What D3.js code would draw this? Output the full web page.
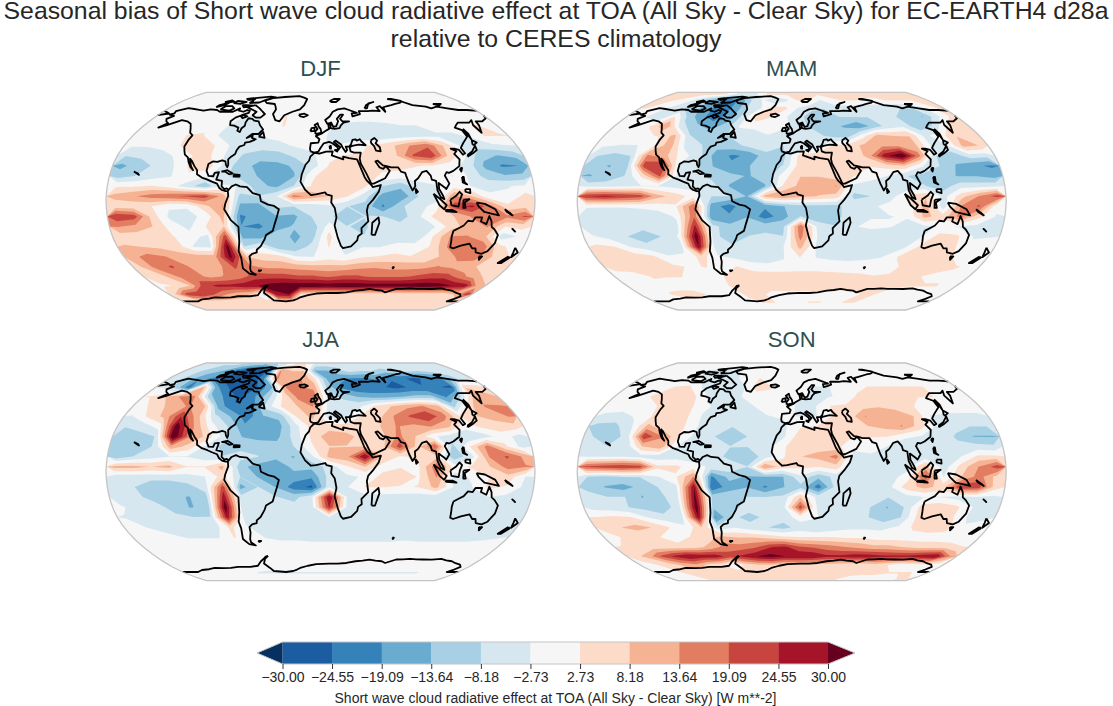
<!DOCTYPE html>
<html>
<head>
<meta charset="utf-8">
<script src="https://cdn.jsdelivr.net/npm/d3@7"></script>
<style>
  html, body { margin: 0; background: #fff; }
  text { font-family: "Liberation Sans", Arial, sans-serif; }
</style>
</head>
<body>
<svg id="chart" width="1113" height="706"></svg>
<script>
const titleLines = [
  "Seasonal bias of Short wave cloud radiative effect at TOA (All Sky - Clear Sky) for EC-EARTH4 d28a",
  "relative to CERES climatology"
];
const seasonNames = ["DJF", "MAM", "JJA", "SON"];
const barLabel = "Short wave cloud radiative effect at TOA (All Sky - Clear Sky) [W m**-2]";
const levels = [-30, -24.55, -19.09, -13.64, -8.18, -2.73, 2.73, 8.18, 13.64, 19.09, 24.55, 30];
const levelLabels = ["\u221230.00", "\u221224.55", "\u221219.09", "\u221213.64", "\u22128.18", "\u22122.73", "2.73", "8.18", "13.64", "19.09", "24.55", "30.00"];
const bandColors = ["#053061", "#1c5da1", "#3581ba", "#6aacd0", "#a7d0e4", "#d7e7f0", "#f6f6f6", "#fcdbc8", "#f6b394", "#e27d62", "#c8453f", "#a51429", "#67001f"];

// rows go north to south (7.5 deg), columns west to east (15 deg), W m-2
const djf = [
[0,0,0,0,0,0,0,0,0,0,0,0,0,0,0,0,0,0,0,0,0,0,0,0],
[0,0,0,0,0,0,0,0,0,0,0,0,0,0,0,0,0,0,0,0,0,0,0,0],
[0,0,0,0,0,0,0,0,0,0,0,0,0,0,0,0,0,0,0,0,0,0,0,0],
[0,0,0,0,0,0,-3,-3,0,3,0,0,0,0,0,0,0,0,0,0,0,0,0,0],
[0,0,0,0,2,-2,-5,-5,0,3,0,0,-2,-4,-5,-5,-4,-3,-3,0,0,2,3,2],
[0,0,0,3,3,-3,-6,-5,-2,-1,0,0,-3,-5,-7,-8,-7,-6,-5,-4,-4,-2,3,3],
[-2,-2,-1,3,3,3,-3,-5,-5,-4,-2,-1,-3,-2,2,4,8,14,18,8,-3,-6,-4,-3],
[-8,-7,-5,-2,3,3,-4,-9,-12,-11,-7,-4,2,3,3,4,8,20,24,8,-2,-12,-14,-12],
[-15,-11,-7,-3,4,6,-5,-12,-15,-15,-13,-6,3,5,6,4,5,3,2,0,-5,-15,-20,-19],
[-11,-8,-5,-3,2,-2,-7,-11,-14,-15,-14,2,5,6,5,2,0,0,0,3,-4,-11,-13,-12],
[2,2,3,0,-6,-12,-2,-3,-12,-15,-8,3,8,6,4,-8,-12,-5,-3,0,-3,-4,-3,-2],
[10,13,16,18,20,22,12,-10,-8,-4,16,12,8,3,-6,-16,-18,-8,-6,14,8,-2,-2,5],
[5,4,3,-2,-2,6,14,-15,-16,-7,-8,-7,-4,-8,-10,-20,-9,-5,0,22,26,16,4,6],
[24,22,6,-4,-5,-1,10,-20,-17,-14,-15,-8,-7,-12,-8,-8,-11,-4,5,8,14,14,15,20],
[14,12,8,0,-4,3,8,-19,-20,-16,-13,-12,0,-8,-9,-5,-6,-8,-3,6,11,14,3,5],
[5,5,3,3,-1,-4,22,-15,-16,-10,-15,-11,5,-8,-8,-5,-7,-8,3,14,14,9,-6,-2],
[9,8,7,6,-3,-4,33,-8,-3,-12,-13,-6,3,-6,-3,-3,0,0,3,14,16,18,5,0],
[12,16,14,10,11,11,32,8,6,5,-2,-3,0,-2,2,3,4,3,3,10,15,16,8,3],
[8,16,20,14,10,12,20,15,12,12,11,10,10,10,12,13,12,12,12,14,12,10,6,5],
[5,8,15,16,12,14,16,22,22,22,20,20,18,20,20,18,18,18,20,22,22,16,10,6],
[2,3,8,22,26,26,28,30,33,34,34,34,33,34,34,33,33,33,33,34,33,30,28,10],
[8,22,25,20,14,10,8,-5,28,30,5,4,4,4,4,4,4,3,4,4,4,4,8,22],
[3,3,3,4,5,6,5,4,5,5,4,5,5,4,4,3,4,4,4,5,5,4,4,3],
[3,4,5,4,3,4,4,3,3,4,5,4,3,3,4,5,4,3,3,4,3,3,3,3]
];
const mam = [
[4,4,4,4,4,3,-3,-4,-3,3,4,4,4,4,4,4,4,4,4,4,4,4,4,4],
[3,3,2,-4,-12,-18,-22,-18,-8,-2,-8,-4,3,3,-3,2,3,3,2,2,3,3,3,4],
[3,0,-4,-8,-12,-18,-22,-18,-8,-4,5,4,-3,-6,-8,-6,-5,-6,-6,-6,-8,-8,-3,3],
[0,-3,-8,3,-10,-18,-22,-16,-6,8,3,-2,-6,-12,-10,-8,-8,-8,-8,-8,-10,-14,-5,3],
[0,0,3,14,-6,-12,-16,-12,-2,-2,0,-1,-6,-10,-12,-14,-18,-12,-6,-4,-12,-8,3,5],
[0,0,2,3,10,-8,-10,-10,-6,-4,-3,-6,-5,-6,-10,-12,0,10,8,8,-4,0,8,4],
[-2,-3,-3,0,12,-4,-8,-12,-10,-6,-5,-8,-8,-6,3,5,10,12,12,10,-3,-3,10,8],
[-8,-10,-8,15,10,0,-6,-16,-20,-18,-10,-10,5,6,5,3,10,28,36,16,-8,-12,-5,-6],
[-12,-14,-10,22,25,-3,-8,-14,-18,-14,-10,-8,6,8,6,3,3,5,8,-2,-8,-14,-18,-20],
[-14,-12,-8,4,20,-4,-6,-10,-12,-14,-12,0,8,8,5,3,0,-3,-8,-10,-12,-14,-14,-16],
[-5,-5,-4,-3,-3,-5,-5,-6,-14,-18,-14,3,10,10,14,-4,-6,-4,-8,-8,-11,-5,-5,-4],
[24,26,24,22,10,6,0,-8,-8,-14,10,14,10,8,6,-10,-8,-6,4,8,-5,6,14,22],
[-2,-2,-2,-2,0,2,18,-16,-22,-14,-18,-14,-10,-10,-10,-4,-4,0,0,10,-6,14,20,-2],
[-6,-8,-8,-5,-6,-2,18,-18,-18,-14,-22,-16,-8,-12,-10,-4,-3,-3,-2,10,5,16,5,-3],
[-6,-7,-8,-6,-6,-4,26,-6,-12,-10,-10,-10,18,-5,-8,-3,-2,-2,-5,-4,-2,-3,-4,-5],
[-2,-5,-8,-12,-8,-2,34,-6,-12,-8,-7,-8,16,-3,-6,-5,-5,-8,-6,-3,5,4,-3,-3],
[4,3,-3,-6,-8,-4,30,-6,-7,-7,-5,-3,10,-4,-6,-4,-5,-6,-5,3,6,4,-2,0],
[6,7,6,4,-2,-2,5,-2,-4,-6,-4,-3,3,-3,-4,-4,-4,-3,3,6,6,4,0,2],
[5,6,8,8,4,2,3,0,3,0,-2,-2,0,0,0,-1,0,0,2,4,5,4,3,2],
[0,0,3,3,3,0,0,3,5,6,7,7,6,6,5,5,4,3,3,3,3,2,2,0],
[0,0,2,0,0,0,0,3,5,6,7,7,7,7,7,6,6,6,5,4,3,3,3,0],
[0,0,3,5,5,2,0,-2,5,5,0,0,0,0,0,0,0,3,3,0,0,0,0,0],
[0,0,0,0,0,0,0,0,0,3,3,0,0,3,3,0,3,3,0,0,0,0,0,0],
[0,0,0,0,0,0,0,0,0,0,0,0,0,0,0,0,0,0,0,0,0,0,0,0]
];
const jja = [
[-6,-8,-8,-8,-10,-12,-14,-10,-4,4,3,-5,-6,-6,-5,-5,-5,-5,-5,-5,-5,-6,-6,-6],
[-6,-8,-10,-14,-22,-28,-30,-24,14,8,8,-14,-14,-10,-6,-8,-8,-10,-8,-6,-8,-6,-6,-5],
[-6,-10,-18,-20,-26,-28,-30,-20,14,12,14,4,-14,-18,-20,-20,-18,-24,-24,-26,-22,-20,-10,-5],
[-3,-10,-24,10,-18,-26,-30,-24,-14,14,14,12,-10,-20,-24,-24,-24,-26,-24,-24,-24,-26,8,5],
[3,8,14,14,-12,-20,-26,-20,-10,4,16,18,-5,-10,-14,-16,-16,-14,-12,-12,-20,-8,12,10],
[0,6,10,14,12,-16,-24,-24,-6,3,8,14,-4,-4,-4,4,8,12,14,10,-10,6,14,14],
[-3,4,10,24,10,-6,-14,-22,-14,-12,3,10,-5,-4,3,6,14,20,24,16,3,8,10,14],
[-8,-6,0,34,14,0,-8,-18,-18,-16,-5,5,5,5,5,8,14,12,14,10,0,4,6,6],
[-10,-10,-8,36,14,6,-6,-14,-16,-15,-6,4,12,10,6,6,15,8,-2,-5,-8,-5,0,-5],
[-12,-10,-8,12,6,-4,-10,-10,-10,-12,-8,2,8,8,8,6,22,6,20,-10,3,16,4,-5],
[-12,-8,-5,-3,-3,-6,-8,-6,-8,-12,-14,-4,10,12,30,8,2,4,6,-12,-5,14,20,12],
[10,10,8,10,3,3,10,-12,-16,-18,-12,-12,-6,2,8,0,2,2,18,0,4,8,16,14],
[-6,-6,-6,-6,-5,-3,5,-8,-14,-16,-16,-18,-6,-4,-2,5,8,2,14,-5,-2,3,6,-3],
[-8,-8,-12,-12,-10,-6,22,-16,-8,-14,-22,-26,-4,-3,3,3,2,3,10,-3,-3,4,2,-4],
[-6,-7,-10,-12,-14,-10,28,-6,-6,-8,-10,-4,30,-3,-5,-5,-5,-6,-6,-6,-4,-3,-4,-6],
[-2,-5,-6,-10,-14,-12,34,-6,-6,-6,-6,-5,25,-3,-6,-5,-6,-6,-6,-6,-5,-3,-6,-6],
[-3,-4,-5,-7,-8,-8,28,-5,-6,-7,-7,-6,-4,-4,-6,-6,-6,-6,-6,-5,-3,-6,-5,-4],
[-1,-3,-4,-5,-5,-6,4,-2,-6,-6,-6,-6,-6,-6,-6,-6,-6,-6,-6,-6,-6,-6,-5,-4],
[0,0,-2,-3,-3,-3,3,0,-3,-4,-4,-5,-5,-5,-5,-5,-5,-4,-5,-5,-5,-5,-4,-3],
[0,0,0,0,0,0,0,0,0,0,0,0,0,0,0,0,0,0,0,0,0,0,0,0],
[0,0,0,0,0,0,0,0,0,0,0,0,0,0,0,0,0,0,0,0,0,0,0,0],
[0,0,0,0,0,0,0,-2,0,0,0,0,0,0,0,0,0,0,0,0,0,0,0,0],
[0,0,0,0,0,0,-3,-3,-3,-3,-3,-3,-3,-3,-3,-3,-3,-3,-3,-3,-3,0,0,0],
[0,0,0,0,0,0,0,0,0,0,0,0,0,0,0,0,0,0,0,0,0,0,0,0]
];
const son = [
[0,0,0,0,0,0,0,0,0,0,0,0,0,0,0,0,0,0,0,0,0,0,0,0],
[0,0,0,0,-3,-4,-3,-3,0,0,0,0,0,0,0,0,0,0,0,0,0,0,0,0],
[0,0,0,0,-2,-4,-5,-4,0,3,0,0,0,0,0,0,0,0,0,0,0,0,0,0],
[0,0,0,3,4,-3,-5,-5,-4,5,3,0,-2,-3,-3,-2,0,3,3,3,3,3,0,0],
[0,0,3,3,6,3,-4,-6,-3,0,2,0,-2,-3,-3,-2,4,6,6,5,3,3,0,0],
[0,0,0,3,8,4,-2,-4,-4,-3,0,0,-4,-3,3,4,6,8,6,4,0,-2,0,0],
[-4,-5,-2,3,6,4,-3,-5,-6,-5,-3,-2,-3,-3,3,5,14,10,12,8,-3,-3,-4,-4],
[-10,-10,-4,10,4,4,-3,-8,-8,-8,-5,-4,2,3,3,4,8,10,14,6,-3,-6,-8,-8],
[-8,-12,-6,24,14,3,-5,-8,-11,-8,-6,-4,6,6,5,3,3,3,-2,-3,-4,-9,-14,-14],
[-6,-8,-8,8,12,-3,-5,-7,-8,-8,-6,2,6,6,4,0,0,-3,-5,-6,-7,-7,-6,-7],
[-3,-3,-3,-5,-6,-5,-6,-5,-10,-12,-6,2,8,10,16,-6,-4,-3,-6,-6,-4,-3,4,4],
[20,22,24,22,4,4,0,-4,-4,-8,14,5,4,3,6,-8,-8,-8,-5,10,-6,5,14,22],
[-8,-10,-8,-8,-3,2,14,-20,-12,-14,-14,-14,-4,-12,-6,-6,-5,-5,0,22,-3,8,16,6],
[-10,-14,-16,-12,-8,-4,30,-24,-16,-14,-20,-14,-10,-22,-6,-8,-6,-4,6,10,6,24,22,5],
[-6,-8,-8,-14,-10,-4,32,-10,-10,-8,-8,-7,8,-5,-6,-8,-8,-8,-5,-3,-3,-5,-3,-4],
[-5,-6,-8,-10,-12,-5,34,-12,-10,-6,-6,-5,22,-4,-5,-6,-8,-14,-8,5,7,4,-3,-4],
[3,4,3,-3,-6,-5,30,-20,-7,-10,-7,-6,0,-2,-7,-7,-8,-12,-8,5,5,3,-4,-4],
[6,8,10,8,3,-2,8,-6,-3,-6,-8,-10,-6,-8,-6,-4,-4,-4,-2,4,6,5,-2,0],
[0,5,4,3,0,3,5,10,8,8,6,4,3,3,3,2,2,0,0,0,0,0,0,0],
[3,3,5,5,5,6,10,16,16,18,24,26,20,18,16,14,12,10,10,8,6,6,5,3],
[6,10,20,26,30,28,28,22,26,30,32,30,30,30,26,26,28,28,26,26,26,28,30,14],
[0,3,5,10,12,6,3,-3,5,8,8,5,6,5,6,5,3,3,6,3,0,0,0,0],
[0,0,3,3,3,4,5,6,8,8,6,5,6,3,3,6,6,5,4,4,3,3,3,0],
[0,0,0,3,3,4,5,5,4,3,3,4,5,3,3,3,3,0,0,0,0,0,3,3]
];
const seasonValues = [djf, mam, jja, son];

// coastlines, lon/lat
const coasts = [
[[-168,65.5],[-164,66.5],[-166,68.5],[-156.5,71.2],[-148,70.4],[-141,69.7],[-135,69],[-128,70],[-120,69.5],[-115,68],[-108,68],[-100,68],[-95,71],[-94,69],[-88,68],[-85,69.5],[-81.5,69],[-81,67],[-87,65],[-92,63],[-94.5,60],[-92.5,57],[-88,56.5],[-82.5,55],[-82,52.5],[-79,51.5],[-79,54.5],[-77,56.5],[-78,59],[-77.5,62.5],[-73,62],[-70,60.5],[-65,60],[-62,57],[-57,53.5],[-60,50],[-66,50],[-70,47],[-65,49],[-65,47],[-61,46],[-66,44],[-70,43.5],[-70,41.7],[-74,40.5],[-75.5,38],[-76,35],[-79,33],[-81,31],[-80,27],[-80.5,25.2],[-82,27],[-83,29.5],[-86,30.3],[-90,29.2],[-94,29.5],[-97.3,27.5],[-97.8,22.5],[-95.5,18.7],[-91.5,18.5],[-90.5,21],[-87,21.5],[-88.5,16],[-83.5,15],[-83.5,11],[-81,9],[-79,9.5],[-77.3,8.5],[-78,7.5],[-80,7.5],[-83,8.3],[-85.5,10],[-87.5,13],[-92,14.5],[-96,16],[-101,17.5],[-105.5,20],[-106,23],[-109,26],[-112.5,30],[-114.7,31.5],[-112,26],[-109.5,23],[-112,25],[-115,29],[-117,32.5],[-120.5,34.5],[-122.5,37.5],[-124.3,40.5],[-124,46],[-123,49],[-127,51],[-130,54.5],[-134,58],[-140,60],[-147,61],[-152,59],[-157,57],[-163,55],[-158,58.5],[-162,60],[-165,62],[-161,64.5],[-168,65.5]],
[[-77.3,8.5],[-75,11],[-71.5,12.4],[-68,11],[-62,10.5],[-57,6],[-51,4.5],[-50,0],[-44,-2.5],[-39,-3.5],[-35,-6],[-37,-12],[-39,-17],[-41,-22],[-47,-25],[-48.5,-28],[-53,-33.5],[-57,-36],[-57.5,-38],[-62,-39],[-65,-41],[-65.5,-45],[-68,-50],[-68.5,-52.5],[-65,-55],[-71,-54],[-75,-50],[-73,-42],[-73.5,-37],[-71,-30],[-70,-19],[-76,-14],[-81,-6],[-80,-2],[-77.5,4],[-78,7.5]],
[[-73,78.3],[-65,81],[-50,82.5],[-30,83.5],[-18,80],[-20,74],[-24,70],[-32,68],[-40,65],[-43,60],[-48,61],[-53,66],[-52,70],[-57,75],[-68,76],[-73,78.3]],
[[-5.5,35.8],[-1,35.2],[5,36.8],[11,37],[10,34],[15,32.5],[20,31],[20,33],[25,32],[32,31],[32.5,30],[35,24],[37.5,18],[39.5,15],[43,12],[44,10.5],[51,12],[49,7],[44,1],[40,-3],[39,-7],[40.5,-15],[35,-20],[35.5,-24],[32.5,-26],[32,-29],[27,-33.5],[20,-34.8],[18,-33],[15,-27],[12,-18],[13.5,-12],[12,-5],[9,-1],[9.5,4],[5,5],[4,6.5],[-4,5],[-8,4.5],[-13,8.5],[-17,14.5],[-16,20],[-13,27],[-10,30],[-9,33],[-5.5,35.8]],
[[-9,37],[-9.5,39],[-9,43],[-2,43.5],[-1,46],[-4.5,48.5],[1.5,50.5],[4,52],[8.5,54],[8,57],[10.5,57.5],[10,54.5],[14,54],[19,54.5],[21,57],[24,59],[30,60],[23,60],[21,62],[25,65.5],[22,65.5],[17.5,62],[18.5,60],[16,56.2],[13,55.5],[11,59],[7,58],[5,61],[10,64],[14,68],[20,70],[28,71],[33,69.5],[41,67],[35,66.5],[35,64],[40,65],[44,66],[44,68.5],[54,68.5],[60,69],[68,68.5],[67,72],[72,73],[74,68],[75,72],[81,73],[87,74],[100,76],[105,77.5],[113,74],[127,72.5],[131,71],[140,72.5],[150,71],[160,69.5],[170,69.5],[178,69],[190,66.5],[180,65],[178,62.5],[170,60],[163,60],[162,57],[157,51],[156,57],[160,61],[155,59],[143,59],[135,55],[140,53],[140,48],[132,43],[127.5,39.5],[129,35.5],[126.5,34.5],[125,38],[121,39],[118,39],[122,37],[119,35],[122,31],[120,26],[114,22.5],[110,21],[108,21.5],[106,19],[109,13],[106,9],[105,10],[100,13.5],[100,9],[103,4],[104,1.5],[101,3],[98.5,8],[98,15],[94.5,16],[94,19],[91,22.5],[87,21.5],[83,17],[80,15],[80,11],[77.5,8],[75,13],[73,19],[72.5,21],[69,22],[67,25],[61,25],[57,26],[54,26.5],[50,30],[48,29.5],[51,25],[54,24],[56.5,26],[59.5,22.5],[55,17],[45,13],[43,13],[39,21],[35,28],[34.5,31.5],[36,36],[30,36],[27,37],[26.5,40],[29,41],[35,42],[41.5,41.5],[38,44.5],[37,46],[34,45],[33,46],[30,45.5],[28,42],[26,40.5],[23,40.5],[24,38],[22.5,36.5],[20,40],[19,42],[14,45],[12.5,44],[18,40],[16,38],[15.5,40],[11,43],[8,44],[3,43],[0,39.5],[-2,36.7],[-5.5,36],[-9,37]],
[[47,45],[51,47],[53,45],[51,43],[54,40],[54,37],[50,37.5],[49,41],[47,43],[47,45]],
[[114,-22],[113.5,-26],[115,-34],[118,-35],[124,-33],[131,-31.5],[135,-35],[138,-35],[140,-38],[146,-39],[150,-37],[153,-31],[153,-25],[149,-21],[146,-19],[145,-15],[142.5,-11],[141,-17],[136,-15],[136.5,-12],[131,-12],[129,-15],[125,-14.5],[122,-18],[118,-20],[114,-22]],
[[-57,-63.5],[-62,-66],[-66,-70],[-62,-74],[-60,-77],[-45,-78],[-35,-77],[-25,-74],[-15,-72],[-5,-70.5],[10,-70],[30,-69.5],[40,-68],[55,-66.5],[70,-68],[75,-69.5],[85,-66.5],[100,-66],[115,-66.5],[135,-66],[150,-68],[165,-71],[170,-73],[165,-78],[180,-78],[200,-78],[210,-76],[230,-74],[250,-74],[260,-73],[275,-73],[285,-72],[292,-68],[300,-64],[303,-63.5]],
[[-80,74],[-72,71],[-66,68],[-62,66],[-65,63],[-70,63],[-75,65],[-73,68],[-80,70],[-88,72],[-80,74]],
[[-117,70],[-105,69],[-102,71],[-107,73],[-115,73],[-117,70]],
[[-125,72],[-118,74],[-116,76],[-124,74],[-125,72]],
[[-90,76],[-78,76.5],[-62,82],[-70,83],[-90,81],[-88,78],[-90,76]],
[[-96,74],[-90,74],[-82,73.5],[-92,72],[-96,74]],
[[-110,76],[-100,75],[-95,77],[-108,78],[-110,76]],
[[-120,76],[-112,77.5],[-116,78.5],[-122,77],[-120,76]],
[[-96,79],[-88,80],[-92,81],[-99,80],[-96,79]],
[[-85,65],[-80,64],[-84,62.5],[-87,64],[-85,65]],
[[-24,65.5],[-18,66.3],[-14,65],[-18,63.5],[-22,64],[-24,65.5]],
[[-59,48],[-56,51.5],[-53,47],[-59,48]],
[[12,78],[18,80],[26,80],[20,77],[14,77],[12,78]],
[[52,71],[56,74],[68,77],[60,75.5],[55,71],[52,71]],
[[90,80],[100,79],[105,78],[95,80],[90,80]],
[[140,75],[150,75],[145,73.5],[140,75]],
[[-5,50],[1,51],[0,54],[-2,56],[-3,58.5],[-6,57],[-3,54],[-5,52],[-5,50]],
[[-10,52],[-6,52.5],[-6,55],[-9,54.5],[-10,52]],
[[-85,22],[-80,23],[-75,20.5],[-78,20],[-82,22],[-85,22]],
[[-74,19.8],[-69,19.5],[-69,18.3],[-74,18.2],[-74,19.8]],
[[-160,22],[-156,20.5],[-155,19.5],[-157,20.5],[-160,22]],
[[44,-25],[47,-25],[50,-16],[49,-12],[44,-16],[44,-25]],
[[80,9.5],[82,7],[80.5,6],[80,9.5]],
[[95,5.5],[100,2],[106,-3],[104,-6],[100,-3],[95,5.5]],
[[105,-6.5],[111,-6.5],[114.5,-8],[106,-7.5],[105,-6.5]],
[[109,1],[114,4],[117,7],[119,5],[117,1],[116,-4],[110,-3],[109,1]],
[[120,1],[125,1.5],[121,-1],[122,-5],[120,-5],[120,1]],
[[131,-1],[138,-2],[147,-6],[150.5,-10.5],[143,-9],[138,-8],[133,-4],[131,-1]],
[[120.5,18],[122,18],[122,14],[124,12.5],[120.5,14],[120.5,18]],
[[122,9],[126,9],[126,6],[122,7],[122,9]],
[[121,25],[122,24.5],[120.8,22],[120,23.5],[121,25]],
[[130,33],[136,35.5],[141,38],[141.5,41],[140,40],[136,36.8],[131,34.5],[130,33]],
[[140,42],[142,45.5],[145,43.5],[141,41.7],[140,42]],
[[142,54],[143,50],[142,46],[142,50],[142,54]],
[[145,-41],[148,-41],[147,-43.5],[145,-41]],
[[173,-34.5],[178,-38],[175,-41.5],[174,-38],[173,-34.5]],
[[172,-41],[174,-42],[170,-46],[167,-46],[172,-41]],
[[165,-21],[167,-22.5],[164,-20.5],[165,-21]],
[[155,-6],[160,-9],[162,-10.5],[157,-8],[155,-6]],
[[-61,-51.5],[-58,-51.5],[-60,-52.3],[-61,-51.5]],
[[69,-49],[70.5,-49],[70,-50],[69,-49]],
[[12.5,38],[15.5,38],[15,36.8],[12.5,38]],
[[8.3,41],[9.5,41],[9.5,39],[8.5,39],[8.3,41]]
];

const svg = d3.select("#chart");

const tabX = [1,0.9986,0.9954,0.99,0.9822,0.973,0.96,0.9427,0.9216,0.8962,0.8679,0.835,0.7986,0.7597,0.7186,0.6732,0.6213,0.5722,0.5322];
const tabY = [0,0.062,0.124,0.186,0.248,0.31,0.372,0.434,0.4958,0.5571,0.6176,0.6769,0.7346,0.7903,0.8435,0.8936,0.9394,0.9761,1];

// d3 core has no Robinson, so look it up in the usual table
function robinsonRaw(lambda, phi) {
  const a = Math.min(Math.abs(phi) * 180 / Math.PI / 5, 17.9999);
  const i = Math.floor(a), t = a - i;
  const px = tabX[i] + (tabX[i + 1] - tabX[i]) * t;
  const py = tabY[i] + (tabY[i + 1] - tabY[i]) * t;
  return [0.8487 * px * lambda, 1.3523 * py * (phi < 0 ? -1 : 1)];
}

const panelCenters = [[320.5, 201.2], [791.7, 201.2], [320.5, 471.8], [791.7, 471.8]];
const titleY = [75.5, 75.5, 346.5, 346.5];
const nx = djf[0].length, ny = djf.length;
const bandScale = d3.scaleThreshold(levels, bandColors);
const upper = levels.filter(d => d > 0);

svg.selectAll("text.title").data(titleLines).join("text")
  .attr("class", "title")
  .attr("x", 556)
  .attr("y", (d, i) => 19 + i * 27.5)
  .attr("text-anchor", "middle")
  .attr("font-size", 24.8)
  .attr("fill", "#262626")
  .text(d => d);

seasonValues.forEach((values, k) => {
  const [cx, cy] = panelCenters[k];
  const projection = d3.geoProjection(robinsonRaw).scale(80.45).translate([cx, cy]).precision(0.2);
  const path = d3.geoPath(projection);
  const flat = values.flat();

  // contour grid space -> lon/lat -> page
  const gridPath = d3.geoPath(d3.geoTransform({
    point(x, y) {
      const p = projection([-180 + x * 360 / nx, 90 - y * 180 / ny]);
      this.stream.point(p[0], p[1]);
    }
  }));

  const g = svg.append("g");
  g.append("clipPath").attr("id", "clip" + k).append("path").attr("d", path({type: "Sphere"}));
  g.append("path").attr("d", path({type: "Sphere"})).attr("fill", bandColors[6]);

  const maps = g.append("g").attr("clip-path", `url(#clip${k})`);
  const contours = d3.contours().size([nx, ny]).thresholds(upper);
  maps.selectAll("path.red").data(contours(flat)).join("path")
    .attr("d", gridPath)
    .attr("fill", d => bandScale(d.value + 0.001));
  maps.selectAll("path.blue").data(contours(flat.map(v => -v))).join("path")
    .attr("d", gridPath)
    .attr("fill", d => bandScale(-d.value - 0.001));

  g.append("path")
    .datum({type: "MultiLineString", coordinates: coasts})
    .attr("d", path)
    .attr("fill", "none")
    .attr("stroke", "#000")
    .attr("stroke-width", 1.8)
    .attr("stroke-linejoin", "round");

  g.append("path").attr("d", path({type: "Sphere"}))
    .attr("fill", "none").attr("stroke", "#c4c4c4").attr("stroke-width", 1.3);

  svg.append("text")
    .attr("x", cx)
    .attr("y", titleY[k])
    .attr("text-anchor", "middle")
    .attr("font-size", 22)
    .attr("fill", "#2f4f4f")
    .text(seasonNames[k]);
});

// colour bar
const barX = d3.scaleLinear([levels[0], levels[levels.length - 1]], [282.5, 828]);
const barTop = 642, barBottom = 664, tipL = 257, tipR = 855;
const bar = svg.append("g");
bar.selectAll("rect").data(d3.pairs(levels)).join("rect")
  .attr("x", d => barX(d[0]))
  .attr("y", barTop)
  .attr("width", d => barX(d[1]) - barX(d[0]) + 0.3)
  .attr("height", barBottom - barTop)
  .attr("fill", d => bandScale((d[0] + d[1]) / 2));
const mid = (barTop + barBottom) / 2;
bar.append("path")
  .attr("d", `M${barX(-30)},${barTop}L${tipL},${mid}L${barX(-30)},${barBottom}Z`)
  .attr("fill", bandColors[0]);
bar.append("path")
  .attr("d", `M${barX(30)},${barTop}L${tipR},${mid}L${barX(30)},${barBottom}Z`)
  .attr("fill", bandColors[12]);
bar.append("path")
  .attr("d", `M${barX(-30)},${barTop}L${tipL},${mid}L${barX(-30)},${barBottom}L${barX(30)},${barBottom}L${tipR},${mid}L${barX(30)},${barTop}Z`)
  .attr("fill", "none").attr("stroke", "#c4c4c4").attr("stroke-width", 1);

const barAxis = svg.append("g")
  .attr("transform", `translate(0,${barBottom})`)
  .call(d3.axisBottom(barX).tickValues(levels).tickFormat((d, i) => levelLabels[i]).tickSize(5).tickPadding(3));
barAxis.select(".domain").remove();
barAxis.selectAll(".tick line").attr("stroke", "#333");
barAxis.selectAll(".tick text")
  .attr("font-family", "Liberation Sans, Arial, sans-serif")
  .attr("font-size", 14).attr("fill", "#262626");

svg.append("text")
  .attr("x", 555.5)
  .attr("y", 703)
  .attr("text-anchor", "middle")
  .attr("font-size", 14)
  .attr("fill", "#262626")
  .text(barLabel);
</script>
</body>
</html>
